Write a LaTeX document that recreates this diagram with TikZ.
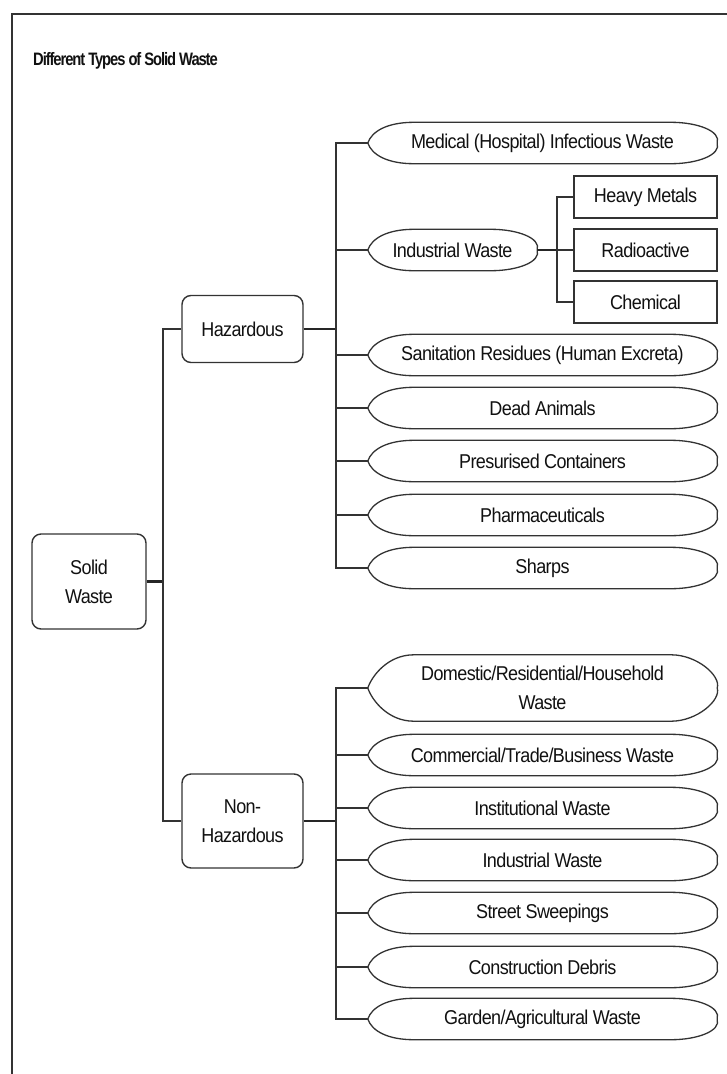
\documentclass[tikz,border=0pt]{standalone}
\usepackage{fontspec}
\setmainfont{Liberation Sans}[FakeStretch=0.9, LetterSpace=-3]
\newfontfamily\titlefont{Liberation Sans}[FakeStretch=0.82, LetterSpace=-6]
\usetikzlibrary{calc}

\definecolor{ink}{HTML}{111111}
\definecolor{wire}{HTML}{333333}

\tikzset{
  txt/.style={font=\fontsize{20}{29}\selectfont, text=ink, align=center, inner sep=0pt},
  rbox/.style={txt, draw=wire, line width=1.4pt, rounded corners=9pt},
  sqbox/.style={txt, draw=wire, line width=1.4pt, minimum width=143pt, minimum height=42pt},
  pill/.style={txt, minimum height=41pt},
  wide/.style={pill, minimum width=349pt},
  pillline/.style={draw=wire, line width=1.3pt},
  bus/.style={draw=wire, line width=1.4pt},
  stub/.style={draw=black!85, line width=2.8pt},
}

% outline of a pointed-end oval drawn around a named node
\newcommand{\pillshape}[1]{%
  \draw[pillline] (#1.west)
    .. controls +(4pt,12pt) and +(-26pt,0pt) .. ([xshift=46pt]#1.north west)
    -- ([xshift=-46pt]#1.north east)
    .. controls +(26pt,0pt) and +(4pt,12pt) .. (#1.east)
    .. controls +(4pt,-12pt) and +(26pt,0pt) .. ([xshift=-46pt]#1.south east)
    -- ([xshift=46pt]#1.south west)
    .. controls +(-26pt,0pt) and +(4pt,-12pt) .. (#1.west);}

\begin{document}
\begin{tikzpicture}[x=1pt,y=-1pt]
\useasboundingbox (0,0) rectangle (727,1074);
\fill[white] (0,0) rectangle (727,1074);

% page frame
\draw[draw=wire, line width=1.6pt] (12,1074) -- (12,14) -- (727,14);

% title
\node[anchor=west, inner sep=0pt, text=ink, font=\titlefont\bfseries\fontsize{18}{21}\selectfont] (title) at (33,61) {Different Types of Solid Waste};

% level 0 and 1
\node[rbox, minimum width=114pt, minimum height=95pt] (sw) at (89,581.5) {Solid\\Waste};
\node[rbox, minimum width=121pt, minimum height=67pt] (haz) at (242.5,329) {Hazardous};
\node[rbox, minimum width=121pt, minimum height=94pt] (nh) at (242.5,821) {Non-\\Hazardous};

% hazardous branch
\node[wide] (med) at (542.5,143) {Medical (Hospital) Infectious Waste};
\node[pill, minimum width=169pt] (indh) at (452.5,250) {Industrial Waste};
\node[wide] (san) at (542.5,355) {Sanitation Residues (Human Excreta)};
\node[wide] (dead) at (542.5,408) {Dead Animals};
\node[wide] (pres) at (542.5,461) {Presurised Containers};
\node[wide] (pharm) at (542.5,515) {Pharmaceuticals};
\node[wide] (sharps) at (542.5,568) {Sharps};

\node[sqbox] (heavy) at (645.5,197) {Heavy Metals};
\node[sqbox] (radio) at (645.5,250) {Radioactive};
\node[sqbox] (chem) at (645.5,302) {Chemical};

% non-hazardous branch
\node[wide, minimum height=66pt] (dom) at (542.5,688) {Domestic/Residential/Household\\Waste};
\node[wide] (com) at (542.5,755) {Commercial/Trade/Business Waste};
\node[wide] (inst) at (542.5,808) {Institutional Waste};
\node[wide] (indn) at (542.5,860) {Industrial Waste};
\node[wide] (street) at (542.5,913) {Street Sweepings};
\node[wide] (cons) at (542.5,967) {Construction Debris};
\node[wide] (gard) at (542.5,1019) {Garden/Agricultural Waste};

\foreach \n in {med,indh,san,dead,pres,pharm,sharps,dom,com,inst,indn,street,cons,gard}
  {\pillshape{\n}}

% junction points of the tree
\coordinate (j0) at (163,581.5);
\coordinate (jh) at (336,329);
\coordinate (ji) at (557,250);
\coordinate (jn) at (336,821);

% connectors
\draw[stub] (sw.east) -- (j0);
\draw[bus] (j0) |- (haz.west);
\draw[bus] (j0) |- (nh.west);

\draw[stub] (haz.east) -- (jh);
\foreach \n in {med,indh,san,dead,pres,pharm,sharps}
  {\draw[bus] (jh) |- (\n.west);}

\draw[stub] (indh.east) -- (ji);
\foreach \n in {heavy,radio,chem}
  {\draw[bus] (ji) |- (\n.west);}

\draw[stub] (nh.east) -- (jn);
\foreach \n in {dom,com,inst,indn,street,cons,gard}
  {\draw[bus] (jn) |- (\n.west);}
\end{tikzpicture}
\end{document}
